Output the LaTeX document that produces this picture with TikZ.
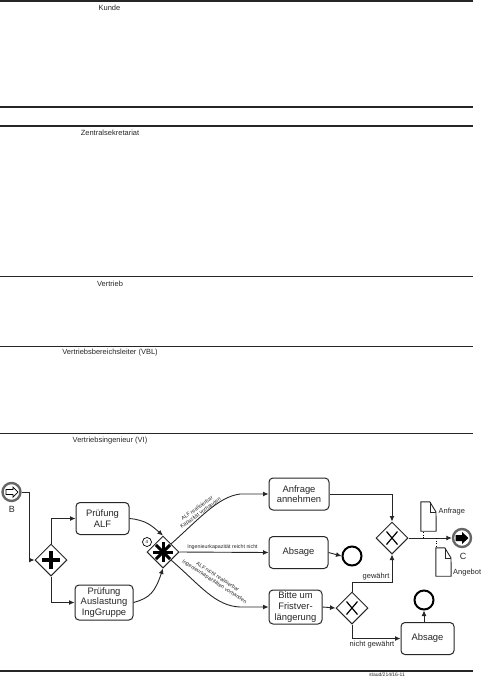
\documentclass[tikz,border=0pt]{standalone}
\usepackage{fontspec}
\setmainfont{Liberation Sans}
\usetikzlibrary{shapes.geometric, arrows.meta}
\tikzset{
  lane/.style={line width=1pt, black!85},
  laneheavy/.style={line width=2pt, black!85},
  lanetext/.style={font=\fontsize{7.5}{9}\selectfont, text=black!85, inner sep=0pt},
  task/.style={draw=black!85, rounded corners=4pt, line width=1pt, inner sep=0pt, align=center,
    font=\fontsize{9.4}{10.6}\selectfont, text=black!85},
  gateway/.style={draw=black!85, diamond, aspect=1, line width=1pt, inner sep=0pt,
    minimum width=32pt, minimum height=32pt},
  endevent/.style={draw, circle, line width=2pt, inner sep=0pt, minimum size=19pt},
  flow/.style={line width=0.9pt, black!85, -{Latex[length=5.5pt, width=5pt]}},
  flowlabel/.style={font=\fontsize{7.5}{9}\selectfont, text=black!85, inner sep=0pt},
  tinylabel/.style={font=\fontsize{5.3}{5.9}\selectfont, text=black!85, inner sep=0pt, align=center},
  docbox/.style={minimum width=15pt, inner sep=0pt},
  docline/.style={line width=0.9pt, black!85},
}
\begin{document}
\begin{tikzpicture}[x=1pt, y=-1pt]
        \useasboundingbox (0, 0) rectangle (481, 678);
        % lanes
        \draw[laneheavy] (0, 1) -- (473, 1);
        \draw[laneheavy] (0, 107) -- (473, 107);
        \draw[laneheavy] (0, 125.7) -- (473, 125.7);
        \draw[lane] (0, 276) -- (473, 276);
        \draw[lane] (0, 346) -- (473, 346);
        \draw[lane] (0, 433.5) -- (473, 433.5);
        \draw[laneheavy] (0, 670.5) -- (473, 670.5);
        \node[lanetext] (kunde) at (109.5, 8) {Kunde};
        \node[lanetext] (sekretariat) at (110, 133) {Zentralsekretariat};
        \node[lanetext] (vertrieb) at (110, 283.5) {Vertrieb};
        \node[lanetext] (vbl) at (110, 353) {Vertriebsbereichsleiter (VBL)};
        \node[lanetext] (vi) at (110, 440.5) {Vertriebsingenieur (VI)};
        \node[font=\fontsize{5}{6}\selectfont, text=black!85, inner sep=0pt] (stamp) at (387, 675) {staud/214/16-11};
        % events
        \node[draw=black!60, circle, line width=2.4pt, inner sep=0pt, minimum size=18pt] (start) at (11.5, 492) {};
        \draw[line width=0.7pt] (6, 489.5) -- (13, 489.5) -- (13, 487) -- (18, 492) -- (13, 497) -- (13, 494.5) -- (6, 494.5) -- cycle;
        \node[font=\fontsize{9}{10}\selectfont, text=black!85, inner sep=0pt] (startlabel) at (12, 509.5) {B};
        \node[draw=black!60, circle, line width=2.4pt, inner sep=0pt, minimum size=18pt] (endC) at (462, 538) {};
        \fill (455.5, 535) -- (462, 535) -- (462, 532) -- (468.5, 538) -- (462, 544) -- (462, 541) -- (455.5, 541) -- cycle;
        \node[font=\fontsize{9}{10}\selectfont, text=black!85, inner sep=0pt] (endlabel) at (463, 556) {C};
        \node[endevent] (endA) at (352, 556) {};
        \node[endevent] (endB) at (424, 600) {};
        % tasks
        \node[task, minimum width=53pt, minimum height=32pt] (alf) at (102.5, 518.5) {Prüfung\\ALF};
        \node[task, minimum width=58pt, minimum height=35pt] (auslastung) at (104, 602.5) {Prüfung\\Auslastung\\IngGruppe};
        \node[task, minimum width=60pt, minimum height=32pt, font=\fontsize{9.4}{8.6}\selectfont] (annehmen) at (299, 494) {Anfrage\\annehmen};
        \node[task, minimum width=59pt, minimum height=32pt] (absageA) at (298.5, 552.5) {Absage};
        \node[task, minimum width=53pt, minimum height=34pt] (bitte) at (295.5, 607) {Bitte um\\Fristver-\\längerung};
        \node[task, minimum width=53pt, minimum height=32pt] (absageB) at (427.5, 638.5) {Absage};
        % gateways
        \node[gateway] (gwPlus) at (51, 560) {};
        \draw[line width=3.4pt] (gwPlus.center) ++(-9, 0) -- ++(18, 0);
        \draw[line width=3.4pt] (gwPlus.center) ++(0, -9) -- ++(0, 18);
        \node[gateway] (gwStar) at (163, 552) {};
        \foreach \a in {0, 45, ..., 315} {
          \draw[line width=3pt] (gwStar.center) -- ++(\a:10);
        }
        \node[draw, circle, line width=0.7pt, inner sep=0pt, minimum size=9pt, font=\fontsize{4.5}{5}\selectfont] (count) at (147, 542) {4};
        \node[gateway] (gwOrA) at (392, 538) {};
        \draw[line width=1.2pt] (gwOrA.center) ++(-5.5, -6.5) -- ++(11, 13);
        \draw[line width=1.2pt] (gwOrA.center) ++(5.5, -6.5) -- ++(-11, 13);
        \node[gateway] (gwOrB) at (352, 608) {};
        \draw[line width=1.2pt] (gwOrB.center) ++(-5.5, -6.5) -- ++(11, 13);
        \draw[line width=1.2pt] (gwOrB.center) ++(5.5, -6.5) -- ++(-11, 13);
        % flows
        \draw[flow] (start.east) -- (29, 492) -- (29, 560) -- (gwPlus.west);
        \draw[flow] (gwPlus.north) |- (alf.west);
        \draw[flow] (gwPlus.south) |- (auslastung.west);
        \draw[flow] (alf.east) .. controls (146, 520) and (152, 526) .. (gwStar.north);
        \draw[flow] (auslastung.east) .. controls (150, 598) and (155, 592) .. (gwStar.south);
        \draw[flow] (gwStar.north east) .. controls (200, 518) and (218, 497) .. (240, 494) -- (annehmen.west);
        \draw[flow] (gwStar.east) -- (absageA.west);
        \draw[flow] (gwStar.south east) .. controls (200, 585) and (215, 606) .. (240, 607) -- (bitte.west);
        \draw[flow] (annehmen.east) -| (gwOrA.north);
        \draw[flow] (absageA.east) -- (endA.west);
        \draw[flow] (bitte.east) -- (gwOrB.west);
        \draw[flow] (gwOrB.north) |- (392, 582) -- (gwOrA.south);
        \draw[flow] (gwOrB.south) |- (absageB.west);
        \draw[flow] (endB |- absageB.north) -- (endB.south);
        \draw[flow] (gwOrA.east) -- (endC.west);
        % documents
        \node[docbox, minimum height=29pt] (docA) at (428.5, 516.5) {};
        \draw[docline] (docA.south west) -- (docA.north west) -- ++(9, 0) -- (436, 512) -- (docA.south east) -- cycle;
        \draw[docline] (430, 502) -- (430, 512) -- (436, 512);
        \node[docbox, minimum height=28pt] (docB) at (443.5, 562) {};
        \draw[docline] (docB.south west) -- (docB.north west) -- ++(9, 0) -- (451, 558) -- (docB.south east) -- cycle;
        \draw[docline] (445, 548) -- (445, 558) -- (451, 558);
        \coordinate (tapA) at (423, 538);
        \coordinate (tapB) at (436, 538);
        \draw[line width=0.6pt, dotted] (tapA) -- (423, 531);
        \draw[line width=0.6pt, dotted] (tapB) -- (436, 548);
        \node[flowlabel, anchor=west] (docAlabel) at (438.5, 512) {Anfrage};
        \node[flowlabel, anchor=west] (docBlabel) at (453, 572.5) {Angebot};
        % labels
        \node[flowlabel] (yes) at (376, 576.5) {gewährt};
        \node[flowlabel] (no) at (372, 645) {nicht gewährt};
        \node[tinylabel, rotate=36] (upper) at (199, 511) {ALF realisierbar\\Kapazität vorhanden};
        \node[tinylabel] (middle) at (222.5, 547.5) {Ingenieurkapazität reicht nicht};
        \node[tinylabel, rotate=-33] (lower) at (216, 579.5) {ALF nicht realisierbar\\Ingenieurkapazitäten vorhanden};
      \end{tikzpicture}
\end{document}
